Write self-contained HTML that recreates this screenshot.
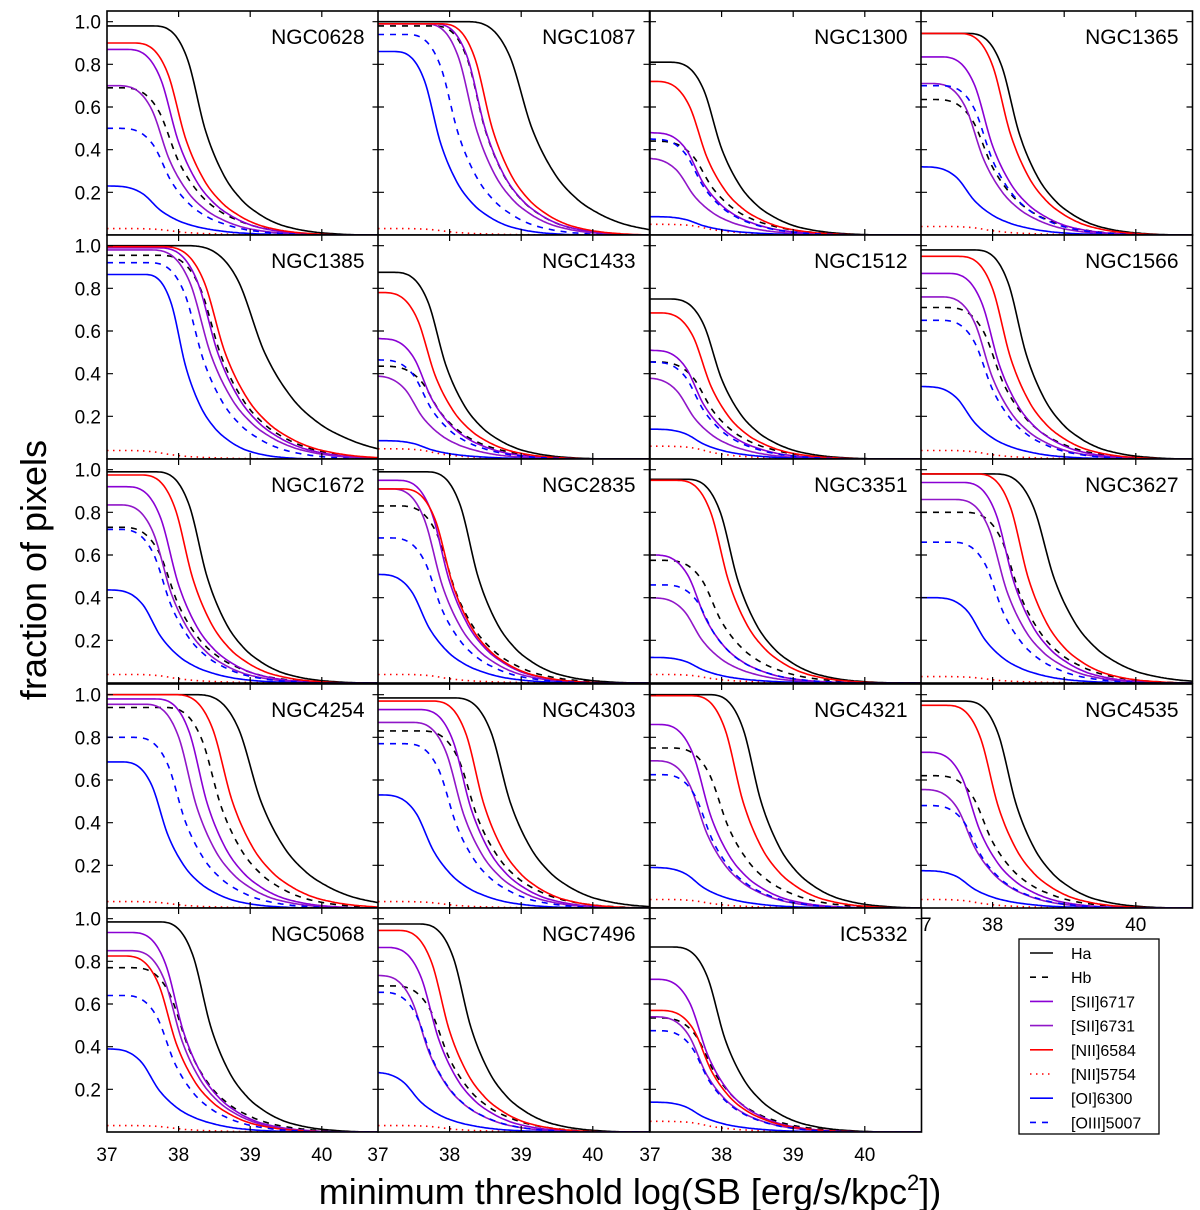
<!DOCTYPE html>
<html><head><meta charset="utf-8"><style>
html,body{margin:0;padding:0;background:#fff;}
svg{display:block;font-family:"Liberation Sans","DejaVu Sans",sans-serif;}
</style></head><body>
<svg id="fig" width="1200" height="1210" viewBox="0 0 1200 1210" xmlns="http://www.w3.org/2000/svg">
<text x="630" y="1204" text-anchor="middle" font-size="36">minimum threshold log(SB [erg/s/kpc<tspan dy="-14" font-size="22">2</tspan><tspan dy="14">])</tspan></text>
<text transform="translate(46,570) rotate(-90)" text-anchor="middle" font-size="36">fraction of pixels</text>
</svg>
<script>
// ---- data ----
const galaxies = ["NGC0628","NGC1087","NGC1300","NGC1365","NGC1385","NGC1433","NGC1512","NGC1566","NGC1672","NGC2835","NGC3351","NGC3627","NGC4254","NGC4303","NGC4321","NGC4535","NGC5068","NGC7496","IC5332"];
const lines = ["Ha","Hb","[SII]6717","[SII]6731","[NII]6584","[NII]5754","[OI]6300","[OIII]5007"];
// plateau fraction per galaxy (order of lines)
const plateau = [
 [0.98,0.69,0.87,0.70,0.90,0.03,0.23,0.50],
 [1.0,0.98,0.99,0.99,0.99,0.03,0.86,0.94],
 [0.81,0.44,0.48,0.36,0.72,0.05,0.086,0.45],
 [0.945,0.635,0.835,0.71,0.945,0.04,0.32,0.70],
 [1.0,0.955,0.99,0.98,0.995,0.04,0.865,0.92],
 [0.875,0.435,0.565,0.39,0.78,0.048,0.086,0.465],
 [0.75,0.455,0.51,0.38,0.685,0.06,0.14,0.455],
 [0.98,0.71,0.87,0.76,0.95,0.04,0.34,0.65],
 [0.99,0.73,0.92,0.835,0.975,0.04,0.437,0.72],
 [0.99,0.83,0.95,0.91,0.91,0.04,0.51,0.68],
 [0.955,0.575,0.60,0.40,0.95,0.04,0.12,0.46],
 [0.98,0.80,0.94,0.86,0.98,0.03,0.40,0.66],
 [1.0,0.94,0.98,0.955,1.0,0.03,0.685,0.80],
 [0.985,0.83,0.93,0.87,0.97,0.03,0.53,0.77],
 [1.0,0.75,0.86,0.69,0.995,0.04,0.19,0.625],
 [0.97,0.62,0.73,0.555,0.95,0.04,0.175,0.48],
 [0.985,0.77,0.935,0.85,0.825,0.03,0.39,0.64],
 [0.975,0.685,0.865,0.735,0.945,0.03,0.28,0.655],
 [0.867,0.535,0.716,0.54,0.57,0.05,0.14,0.475]
];
// log SB where fraction reaches half its plateau
const midpoint = [
 [38.375,38.0,38.0,37.875,38.1,38.0,37.75,37.9],
 [39.15,38.5,38.5,38.375,38.6,38.0,37.875,38.125],
 [38.0,37.875,37.75,37.625,37.8,37.875,37.75,37.75],
 [38.375,38.0,38.0,37.875,38.25,38.0,37.75,38.0],
 [39.2,38.6,38.55,38.45,38.65,37.9,38.1,38.35],
 [37.95,37.875,37.75,37.625,37.8,37.875,37.75,37.75],
 [38.0,37.875,37.75,37.625,37.85,37.875,37.75,37.75],
 [38.47,38.15,38.1,38.0,38.25,38.0,37.75,38.0],
 [38.4,38.0,38.0,37.9,38.2,38.0,37.75,37.9],
 [38.4,38.1,38.0,37.9,38.05,38.0,37.72,37.9],
 [38.23,38.0,37.78,37.73,38.1,37.875,37.75,37.9],
 [38.86,38.4,38.3,38.2,38.5,38.0,37.9,38.15],
 [39.15,38.6,38.4,38.25,38.75,38.0,37.85,38.1],
 [38.85,38.4,38.3,38.2,38.48,38.0,37.78,38.1],
 [38.55,38.1,37.85,37.8,38.3,37.875,37.75,37.88],
 [38.33,38.0,37.82,37.76,38.08,37.875,37.75,37.85],
 [38.45,38.15,38.07,38.05,37.97,38.0,37.73,37.95],
 [38.3,38.0,37.85,37.72,38.0,38.0,37.6,37.78],
 [38.05,37.92,37.81,37.79,37.86,37.875,37.75,37.83]
];
// transition width per curve
const widths = [
 [1,1.1,1,1,1,1,1,1],
 [1.25,1.0,1.0,1.0,1.0,1,0.9,1.0],
 [1,1.1,1,1,1,1,1,1],
 [1,1.1,1,1,1,1,1,1],
 [1.5,1.2,1.15,1.15,1.2,1,0.8,1.05],
 [1,1.1,1,1,1,1,1,1],
 [1,1.1,1,1,1,1,1,1],
 [1,1.1,1,1,1,1,1,1],
 [1,1.1,1,1,1,1,1,1],
 [1,1.1,1,1,1,1,1,1],
 [1,1.1,1,1,1,1,1,1],
 [1.15,1.1,1,1,1,1,1,1],
 [1.25,1.1,1,1,1.1,1,0.9,1],
 [1.1,1.1,1,1,1,1,1,1],
 [1,1.1,1,1,1,1,1,1],
 [1,1.1,1,1,1,1,1,1],
 [1,1.1,1,1,1,1,1,1],
 [1,1.1,1,1,1,1,1,1],
 [1,1.1,1,1,1,1,1,1]
];
// shared fall-off profile (relative fraction vs offset from midpoint)
const profileOffsets = [-0.75,-0.5,-0.25,0,0.25,0.5,0.75,1,1.25,1.5,1.75,2,2.3];
const profileValues  = [1.0,0.98,0.84,0.5,0.29,0.17,0.10,0.055,0.03,0.015,0.007,0.002,0];
const xTicks = [37,38,39,40];
const yTicks = [0.2,0.4,0.6,0.8,1.0];
const yTickLabels = ["0.2","0.4","0.6","0.8","1.0"];

// ---- layout ----
const NS="http://www.w3.org/2000/svg";
const svg=document.getElementById('fig');
const colL=[107,378,650,921], colW=271.5;
const rowT=[11,235,459,684,908], rowH=224;
const XMIN=37, XMAX=37+colW/71.6, YMIN=0, YMAX=1.05;
const styles=[
 {c:"#000000",d:""},{c:"#000000",d:"6,6"},{c:"#8a00d4",d:""},{c:"#9016c8",d:""},
 {c:"#ff0000",d:""},{c:"#ff0000",d:"1.5,4.5"},{c:"#0000ff",d:""},{c:"#0000ff",d:"6,6"}];
function mk(tag,attrs,parent){const e=document.createElementNS(NS,tag);for(const k in attrs)e.setAttribute(k,attrs[k]);(parent||svg).appendChild(e);return e;}
function monotone(xs,ys){
 const n=xs.length,d=[],m=new Array(n);
 for(let i=0;i<n-1;i++)d.push((ys[i+1]-ys[i])/(xs[i+1]-xs[i]));
 m[0]=d[0];m[n-1]=d[n-2];
 for(let i=1;i<n-1;i++){m[i]=(d[i-1]*d[i]<=0)?0:(d[i-1]+d[i])/2;}
 for(let i=0;i<n-1;i++){if(d[i]===0){m[i]=0;m[i+1]=0;continue;}const a=m[i]/d[i],b=m[i+1]/d[i];const s=a*a+b*b;if(s>9){const t=3/Math.sqrt(s);m[i]=t*a*d[i];m[i+1]=t*b*d[i];}}
 return function(x){let i=0;while(i<n-2&&x>xs[i+1])i++;const h=xs[i+1]-xs[i];let t=(x-xs[i])/h;t=Math.max(0,Math.min(1,t));
  const t2=t*t,t3=t2*t;return (2*t3-3*t2+1)*ys[i]+(t3-2*t2+t)*h*m[i]+(-2*t3+3*t2)*ys[i+1]+(t3-t2)*h*m[i+1];};
}
const defs=mk('defs',{});
function drawPanel(gi,r,c){
 const L=colL[c],T=rowT[r],W=colW,H=rowH;
 const xS=v=>L+(v-XMIN)/(XMAX-XMIN)*W, yS=v=>T+H-(v-YMIN)/(YMAX-YMIN)*H;
 const g=mk('g',{});
 
 
 const bg=mk('rect',{x:L,y:T,width:W,height:H,fill:'#fff'},g);
 
 
 const cp=mk('clipPath',{id:'cp'+gi},defs);mk('rect',{x:L,y:T,width:W,height:H},cp);
 const cg=mk('g',{'clip-path':'url(#cp'+gi+')'},g);
 for(let k=0;k<8;k++){
  const p=plateau[gi][k],m=midpoint[gi][k],w=widths[gi][k];
  let xs=[],ys=[];
  if(m+profileOffsets[0]*w>XMIN){xs.push(XMIN-0.1);ys.push(p);}
  for(let j=0;j<profileOffsets.length;j++){xs.push(m+profileOffsets[j]*w);ys.push(p*profileValues[j]);}
  if(xs[xs.length-1]<XMAX){xs.push(XMAX+0.1);ys.push(0);}
  const f=monotone(xs,ys);let dstr='';
  for(let px=0;px<=W;px+=1.5){const xv=XMIN+px/W*(XMAX-XMIN);const yv=Math.max(0,Math.min(p,f(xv)));dstr+=(px?'L':'M')+xS(xv).toFixed(1)+' '+yS(yv).toFixed(1);}
  const path=mk('path',{d:dstr,fill:'none',stroke:styles[k].c,'stroke-width':1.6},cg);
  if(styles[k].d)path.setAttribute('stroke-dasharray',styles[k].d);
  
  
 }
 let td='';
 xTicks.forEach(t=>{const x=xS(t);if(x>L+1&&x<L+W-1){td+=`M${x} ${T+H}v-6M${x} ${T}v6`;}});
 yTicks.forEach(t=>{const y=yS(t);td+=`M${L} ${y}h6M${L+W} ${y}h-6`;});
 const tk=mk('path',{d:td,stroke:'#000','stroke-width':1.2,fill:'none'},g);
 
 
 const fr=mk('rect',{x:L,y:T,width:W,height:H,fill:'none',stroke:'#000','stroke-width':1.6},g);
 
 
 const lab=mk('text',{x:L+W-14,y:T+33,'text-anchor':'end','font-size':21},g);
 lab.textContent=galaxies[gi];
 
 
 if(c===0){yTicks.forEach((t,i)=>{const tl=mk('text',{x:L-6,y:yS(t)+7,'text-anchor':'end','font-size':19});tl.textContent=yTickLabels[i];
  
  });}
}
function xLabels(L,y){xTicks.forEach(t=>{const x=L+(t-XMIN)/(XMAX-XMIN)*colW;const tl=mk('text',{x:x,y:y,'text-anchor':'middle','font-size':19});tl.textContent=String(t);
 
 });}
for(let gi=0;gi<16;gi++)drawPanel(gi,Math.floor(gi/4),gi%4);
xLabels(colL[3],rowT[3]+rowH+23);
for(let gi=16;gi<19;gi++)drawPanel(gi,4,gi-16);
for(let c=0;c<3;c++)xLabels(colL[c],rowT[4]+rowH+29);
// legend
const lg=mk('g',{});


mk('rect',{x:1019,y:939,width:140,height:195,fill:'#fff',stroke:'#000','stroke-width':1.3},lg);
lines.forEach((nm,k)=>{const y=953+k*24.2;
 const e=mk('g',{},lg);
 
 
 const ln=mk('line',{x1:1030,x2:1053,y1:y,y2:y,stroke:styles[k].c,'stroke-width':1.6},e);
 if(styles[k].d)ln.setAttribute('stroke-dasharray',styles[k].d);
 const t=mk('text',{x:1071,y:y+6,'font-size':16},e);t.textContent=nm;});
</script>
</body></html>
